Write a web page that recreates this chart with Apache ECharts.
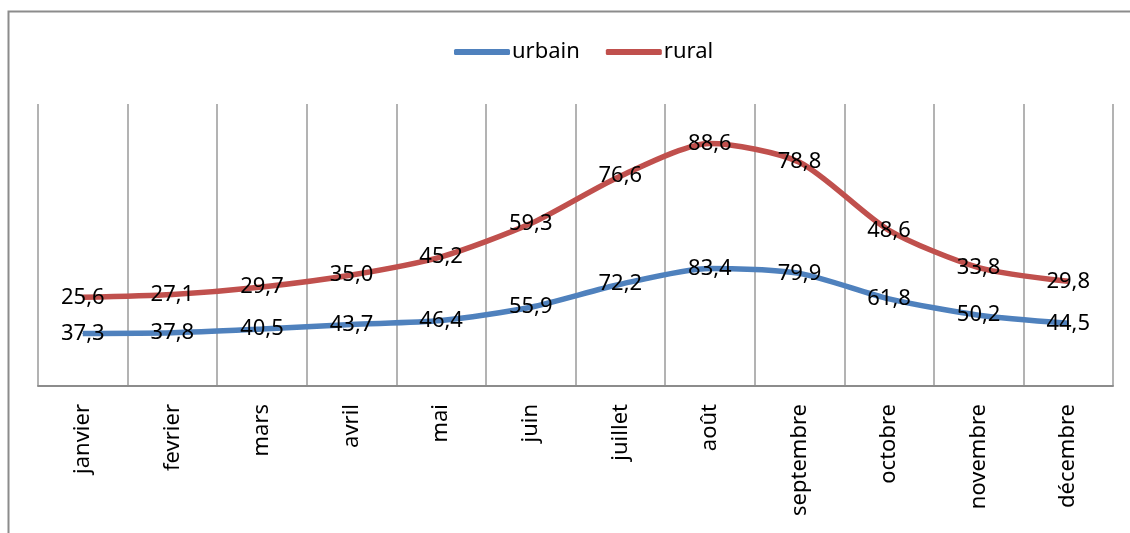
<!DOCTYPE html>
<html>
<head>
<meta charset="utf-8">
<title>urbain / rural</title>
<script src="https://cdn.jsdelivr.net/npm/echarts@6/dist/echarts.min.js"></script>
<style>
  html, body { margin: 0; padding: 0; background: #fff; }
  #main { width: 1130px; height: 533px; }
</style>
</head>
<body>
<div id="main"></div>
<script>
var months = ['janvier', 'fevrier', 'mars', 'avril', 'mai', 'juin', 'juillet', 'août', 'septembre', 'octobre', 'novembre', 'décembre'];
var urbain = [37.3, 37.8, 40.5, 43.7, 46.4, 55.9, 72.2, 83.4, 79.9, 61.8, 50.2, 44.5];
var rural = [25.6, 27.1, 29.7, 35.0, 45.2, 59.3, 76.6, 88.6, 78.8, 48.6, 33.8, 29.8];

var font = '"Noto Sans", "Open Sans", sans-serif';

function virgule(p) {
    return p.value.toFixed(1).replace('.', ',');
}

function serie(name, data, color) {
    return {
        name: name,
        type: 'line',
        stack: 'total',
        data: data,
        smooth: 0.25,
        symbol: 'circle',
        symbolSize: 1,
        itemStyle: { color: color },
        lineStyle: { color: color, width: 5.5 },
        label: {
            show: true,
            position: 'inside',
            formatter: virgule,
            color: '#000',
            fontSize: 22,
            fontFamily: font
        },
        emphasis: { disabled: true }
    };
}

var chart = echarts.init(document.getElementById('main'));
chart.setOption({
    animation: false,
    backgroundColor: '#fff',
    graphic: [{
        type: 'rect',
        shape: { x: 8.5, y: 11.5, width: 1140, height: 540 },
        style: { fill: 'none', stroke: '#8c8c8c', lineWidth: 2 }
    }],
    legend: {
        top: 36,
        left: 449,
        itemWidth: 56,
        itemHeight: 6,
        itemGap: 26,
        icon: 'roundRect',
        textStyle: { fontSize: 22, color: '#000', fontFamily: font, padding: [0, 0, 0, -3] },
        data: ['urbain', 'rural']
    },
    grid: { left: 38, right: 17, top: 104, bottom: 147 },
    xAxis: {
        type: 'category',
        data: months,
        boundaryGap: true,
        axisLine: { lineStyle: { color: '#8c8c8c', width: 2 } },
        axisTick: { show: false },
        splitLine: { show: true, lineStyle: { color: '#9a9a9a', width: 1.5 } },
        axisLabel: {
            rotate: 90,
            margin: 18,
            color: '#000',
            fontSize: 22,
            fontFamily: font,
            interval: 0
        }
    },
    yAxis: {
        type: 'value',
        min: 0,
        max: 200,
        show: false,
        splitLine: { show: false }
    },
    series: [
        serie('urbain', urbain, '#4f81bd'),
        serie('rural', rural, '#c0504d')
    ]
});
</script>
</body>
</html>
